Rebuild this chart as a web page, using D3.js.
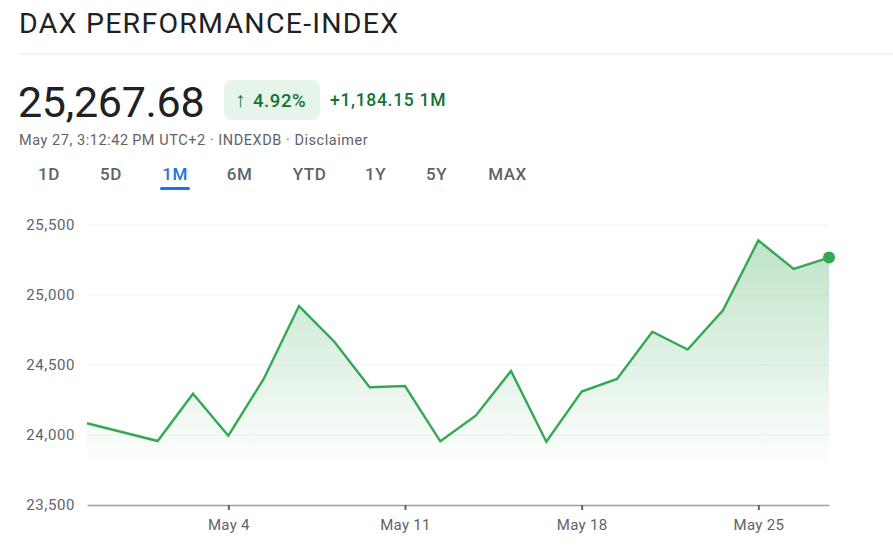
<!DOCTYPE html>
<html>
<head>
<meta charset="utf-8">
<script src="https://cdn.jsdelivr.net/npm/d3@7"></script>
<style>
  body { margin: 0; background: #fff; }
  svg { display: block; font-family: Roboto, Arial, sans-serif; }
</style>
</head>
<body>
<script>
// trading sessions, slot = position among weekdays (Apr 29 missing in the feed)
let dates = ["Apr 28", "Apr 30", "May 1", "May 4", "May 5", "May 6", "May 7", "May 8",
    "May 11", "May 12", "May 13", "May 14", "May 15", "May 18", "May 19", "May 20",
    "May 21", "May 22", "May 25", "May 26", "May 27"];
let slots = [0, 2, 3, 4, 5, 6, 7, 8, 9, 10, 11, 12, 13, 14, 15, 16, 17, 18, 19, 20, 21];
let closes = [24084, 23957, 24295, 23995, 24400, 24921, 24666, 24341, 24350, 23955,
    24138, 24457, 23952, 24310, 24400, 24738, 24610, 24890, 25390, 25186, 25267.68];

let yTicks = [23500, 24000, 24500, 25000, 25500];
let xTickSlots = [4, 9, 14, 19];
let xTickLabels = ["May 4", "May 11", "May 18", "May 25"];
let tabs = ["1D", "5D", "1M", "6M", "YTD", "1Y", "5Y", "MAX"];
let activeTab = "1M";

let width = 893,
    height = 546;

let svg = d3.select("body").append("svg")
    .attr("width", width).attr("height", height);

// header
svg.append("text").attr("x", 19).attr("y", 33)
    .attr("font-size", 28.5).attr("fill", "#202124").attr("letter-spacing", 1.25)
    .text("DAX PERFORMANCE-INDEX");
svg.append("line").attr("x1", 18).attr("x2", width).attr("y1", 54).attr("y2", 54)
    .attr("stroke", "#e8eaed").attr("stroke-width", 1);

svg.append("text").attr("x", 18).attr("y", 117)
    .attr("font-size", 43).attr("fill", "#202124").attr("letter-spacing", -0.3)
    .text("25,267.68");

svg.append("rect").attr("x", 224).attr("y", 80).attr("width", 96).attr("height", 40)
    .attr("rx", 8).attr("fill", "#e6f4ea");
svg.append("text").attr("x", 235).attr("y", 107)
    .attr("font-size", 21).attr("fill", "#137333")
    .text("\u2191");
svg.append("text").attr("x", 253).attr("y", 107)
    .attr("font-size", 18.5).attr("fill", "#137333").attr("font-weight", 500).attr("letter-spacing", 0.6)
    .text("4.92%");
svg.append("text").attr("x", 330).attr("y", 106)
    .attr("font-size", 17.5).attr("fill", "#137333").attr("font-weight", 500).attr("letter-spacing", 0.7)
    .text("+1,184.15 1M");

svg.append("text").attr("x", 19).attr("y", 145)
    .attr("font-size", 14.5).attr("fill", "#5f6368").attr("letter-spacing", 0.55)
    .text("May 27, 3:12:42\u2009PM UTC+2 \u00b7 INDEXDB \u00b7 Disclaimer");

// range tabs
let tabCenters = [49, 111, 175, 239.5, 309.5, 375.5, 436.5, 507.5];
svg.selectAll(".tab").data(tabs).join("text")
    .attr("class", "tab")
    .attr("x", (d, i) => tabCenters[i]).attr("y", 180)
    .attr("text-anchor", "middle").attr("font-size", 17).attr("font-weight", 500)
    .attr("letter-spacing", 0.5)
    .attr("fill", (d) => d === activeTab ? "#1a73e8" : "#5f6368")
    .text((d) => d);
let ai = tabs.indexOf(activeTab);
svg.append("rect").attr("x", tabCenters[ai] - 15).attr("y", 187)
    .attr("width", 30).attr("height", 3).attr("rx", 1.5).attr("fill", "#1a73e8");

// chart
let x = d3.scaleLinear().domain([0, 21]).range([87, 829]);
let y = d3.scaleLinear().domain([23500, 25500]).range([505, 225]);

let pts = closes.map((v, i) => ({ slot: slots[i], value: v, date: dates[i] }));

let defs = svg.append("defs");
let grad = defs.append("linearGradient").attr("id", "fillGrad")
    .attr("gradientUnits", "userSpaceOnUse")
    .attr("x1", 0).attr("x2", 0)
    .attr("y1", y(d3.max(closes))).attr("y2", 467);
grad.append("stop").attr("offset", "0%").attr("stop-color", "#34a853").attr("stop-opacity", 0.32);
grad.append("stop").attr("offset", "100%").attr("stop-color", "#34a853").attr("stop-opacity", 0);

// gridlines
svg.selectAll(".grid").data(yTicks.slice(1)).join("line")
    .attr("class", "grid")
    .attr("x1", x(0)).attr("x2", x(21))
    .attr("y1", (d) => y(d)).attr("y2", (d) => y(d))
    .attr("stroke", "#f1f3f4").attr("stroke-width", 1);

let area = d3.area()
    .x((d) => x(d.slot))
    .y0(y(23500))
    .y1((d) => y(d.value));
svg.append("path").attr("d", area(pts)).attr("fill", "url(#fillGrad)");

let line = d3.line()
    .x((d) => x(d.slot))
    .y((d) => y(d.value));
svg.append("path").attr("d", line(pts))
    .attr("fill", "none").attr("stroke", "#34a853").attr("stroke-width", 2.4)
    .attr("stroke-linejoin", "miter");

let last = pts[pts.length - 1];
svg.append("circle").attr("cx", x(last.slot)).attr("cy", y(last.value))
    .attr("r", 6).attr("fill", "#34a853");

// y labels
svg.selectAll(".ylab").data(yTicks).join("text")
    .attr("class", "ylab")
    .attr("x", 75).attr("y", (d) => y(d) + 5)
    .attr("text-anchor", "end").attr("font-size", 15).attr("fill", "#5f6368")
    .attr("letter-spacing", 0.6)
    .text((d) => d3.format(",")(d));

// x axis
let xAxis = d3.axisBottom(x)
    .tickValues(xTickSlots)
    .tickFormat((d, i) => xTickLabels[i])
    .tickSize(5).tickSizeOuter(0).tickPadding(9);
let gx = svg.append("g").attr("transform", `translate(0,${y(23500)})`).call(xAxis);
gx.select(".domain").attr("stroke", "#9aa0a6").attr("stroke-width", 1.5);
gx.selectAll(".tick line").attr("stroke", "#5f6368").attr("stroke-width", 2);
gx.selectAll(".tick text").attr("font-size", 15).attr("fill", "#5f6368")
    .attr("letter-spacing", 0.3)
    .attr("font-family", "Roboto, Arial, sans-serif");
</script>
</body>
</html>
